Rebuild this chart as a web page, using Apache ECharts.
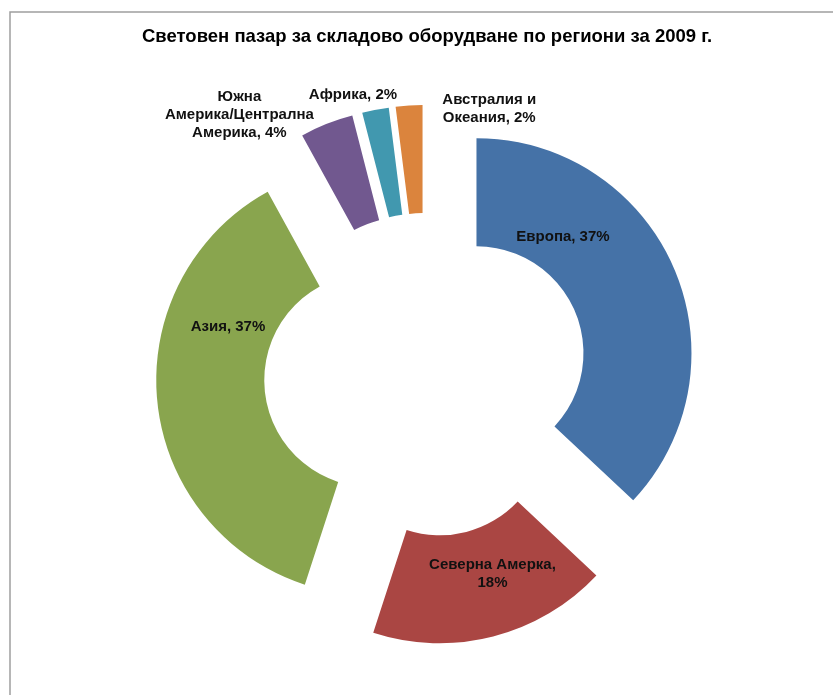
<!DOCTYPE html>
<html><head><meta charset="utf-8">
<script src="https://cdn.jsdelivr.net/npm/echarts@6/dist/echarts.min.js"></script>
<style>html,body{margin:0;padding:0;background:#fff}#c{width:833px;height:695px}</style>
</head><body><div id="c"></div>
<script>
// ---- data ----
const titleText = 'Световен пазар за складово оборудване по региони за 2009 г.';
const categories = ['Европа', 'Северна Амерка', 'Азия', 'Южна\nАмерика/Централна\nАмерика', 'Африка', 'Австралия и\nОкеания'];
const shares = [37, 18, 37, 4, 2, 2];

// ---- styles ----
const colors = ['#4572A7', '#AA4643', '#89A54E', '#71588F', '#4198AF', '#DB843D'];
const breakBeforeValue = [false, true, false, false, false, false];
// how far each label is moved from its default in-slice spot (px)
const labelShiftX = [-64, 12, 20, -106, -32, 77];
const labelShiftY = [-51, -13, -69, -57, -65, -48];
const explode = 55;

const chart = echarts.init(document.getElementById('c'), null, {renderer: 'canvas'});

const labelFont = {fontFamily: 'Liberation Sans, Arial, sans-serif', fontSize: 15, fontWeight: 'bold', color: '#111', lineHeight: 18};
const rich = {t: labelFont};
labelShiftY.forEach(function (dy, i) {
  const h = Math.max(1, Math.abs(2 * dy));
  rich['s' + i] = {fontSize: 1, height: h, lineHeight: h};
});

function hPadding(i) {
  const dx = labelShiftX[i];
  return [0, Math.max(0, -2 * dx), 0, Math.max(0, 2 * dx)];
}

chart.setOption({
  backgroundColor: '#ffffff',
  animation: false,
  title: {
    text: titleText,
    left: 142,
    top: 27,
    padding: 0,
    textStyle: {fontFamily: 'Liberation Sans, Arial, sans-serif', fontSize: 18.5, fontWeight: 'bold', color: '#000'}
  },
  graphic: [{
    type: 'rect', silent: true,
    shape: {x: 10, y: 12, width: 900, height: 800},
    style: {fill: 'none', stroke: '#9e9e9e', lineWidth: 1.5}
  }],
  series: [{
    type: 'pie',
    center: [426, 375],
    radius: [107, 215],
    startAngle: 90,
    clockwise: true,
    selectedMode: 'multiple',
    selectedOffset: explode,
    avoidLabelOverlap: false,
    labelLayout: {hideOverlap: false},
    emphasis: {disabled: true},
    label: {
      show: true,
      position: 'inside',
      fontFamily: labelFont.fontFamily,
      fontSize: 15,
      fontWeight: 'bold',
      color: '#111',
      lineHeight: 18,
      align: 'center',
      rich: rich,
      formatter: function (p) {
        const i = p.dataIndex;
        const txt = '{t|' + p.name + ',' + (breakBeforeValue[i] ? '\n' : ' ') + p.value + '%}';
        const sp = '{s' + i + '| }';
        return labelShiftY[i] < 0 ? txt + '\n' + sp : sp + '\n' + txt;
      }
    },
    labelLine: {show: false},
    data: categories.map(function (c, i) {
      return {
        name: c, value: shares[i], selected: true,
        itemStyle: {color: colors[i], borderWidth: 0},
        label: {padding: hPadding(i)},
        select: {itemStyle: {color: colors[i], borderWidth: 0}}
      };
    })
  }]
});
</script></body></html>
